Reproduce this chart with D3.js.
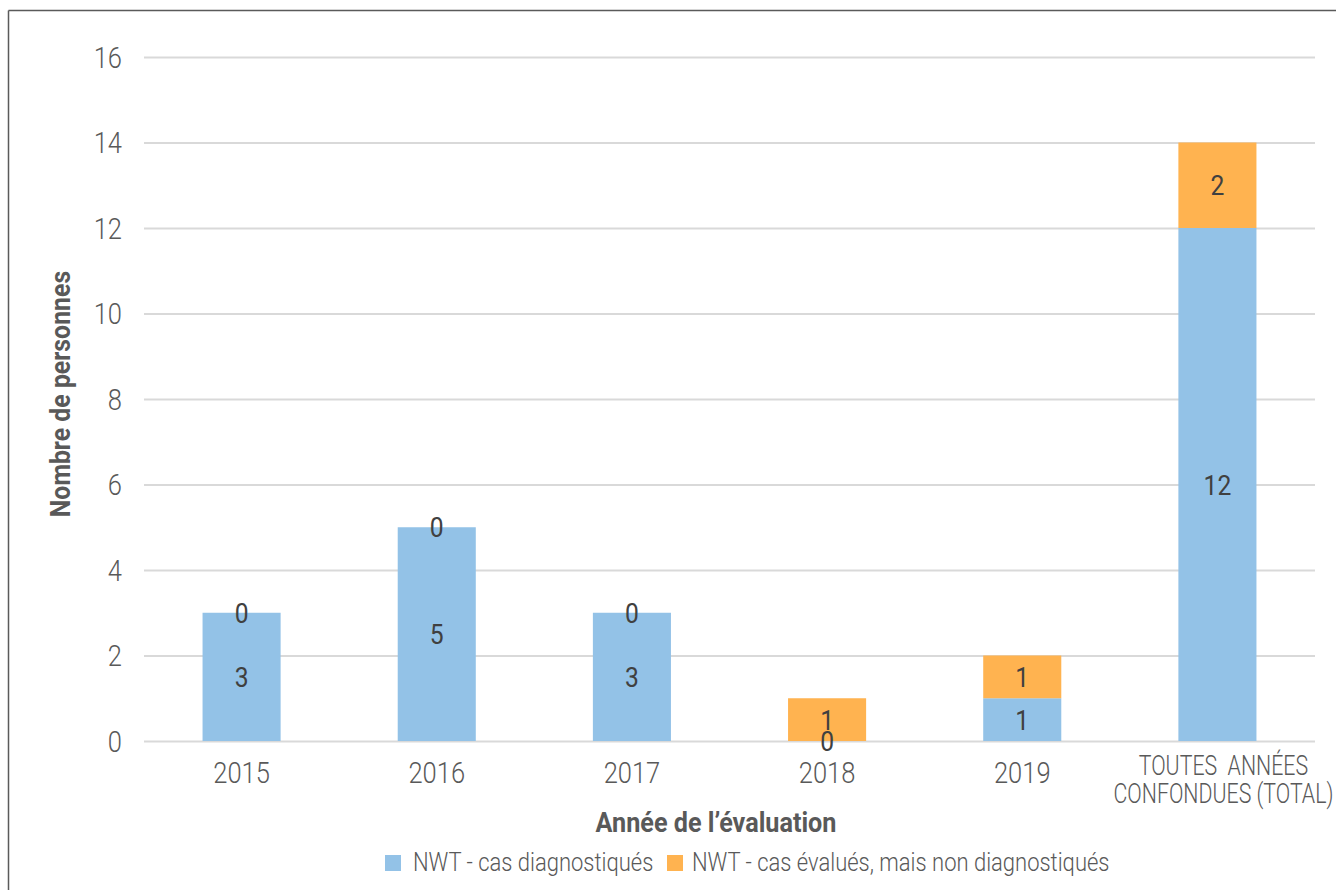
<!DOCTYPE html>
<html>
<head>
<meta charset="utf-8">
<script src="https://cdn.jsdelivr.net/npm/d3@7"></script>
<style>
  html, body { margin: 0; padding: 0; background: #fff; }
  svg { display: block; }
  text { font-family: Roboto, "Liberation Sans", sans-serif; }
</style>
</head>
<body>
<svg id="chart" width="1336" height="890"></svg>
<script>
const categories = ["2015", "2016", "2017", "2018", "2019", "TOUTES  ANNÉES|CONFONDUES (TOTAL)"];
const diagnosed = [3, 5, 3, 0, 1, 12];
const notDiagnosed = [0, 0, 0, 1, 1, 2];
const seriesNames = ["NWT - cas diagnostiqués", "NWT - cas évalués, mais non diagnostiqués"];
const seriesColors = ["#93C2E7", "#FFB350"];
const yTicks = [0, 2, 4, 6, 8, 10, 12, 14, 16];

const svg = d3.select("#chart");
const W = 1336, H = 890;
const plot = { left: 144, right: 1315, top: 57, bottom: 741 };
const C = 0.88; // horizontal condense factor

// condensed text helper: anchored at (x,y)
function ctext(parent, x, y, str, opts) {
  const c = opts.c || C;
  const g = parent.append("g").attr("transform", `translate(${x},${y}) scale(${c},1)`);
  const t = g.append("text")
    .attr("text-anchor", opts.anchor || "start")
    .attr("font-size", opts.size)
    .attr("font-weight", opts.weight || 400)
    .attr("fill", opts.fill || "#595959")
    .text(str);
  if (opts.dy) t.attr("dy", opts.dy);
  return t;
}

// frame
svg.append("line").attr("x1", 8.5).attr("x2", W).attr("y1", 10.5).attr("y2", 10.5)
  .attr("stroke", "#5a5a5a").attr("stroke-width", 1.5);
svg.append("line").attr("x1", 8.5).attr("x2", 8.5).attr("y1", 10.5).attr("y2", H)
  .attr("stroke", "#5a5a5a").attr("stroke-width", 1.5);

const x = d3.scaleBand().domain(categories).range([plot.left, plot.right])
  .paddingInner(0.6).paddingOuter(0.3);
const y = d3.scaleLinear().domain([0, 16]).range([plot.bottom, plot.top]);

// y axis with gridlines
const yAxis = svg.append("g").attr("transform", `translate(${plot.left},0)`)
  .call(d3.axisLeft(y).tickValues(yTicks).tickSize(-(plot.right - plot.left)).tickPadding(22));
yAxis.select(".domain").remove();
yAxis.selectAll(".tick line").attr("stroke", "#d9d9d9").attr("stroke-width", 2);
yAxis.selectAll(".tick text")
  .attr("fill", "#595959").attr("font-size", 29).attr("font-weight", 300)
  .attr("x", -22 / C).attr("dy", "0.35em")
  .attr("transform", `scale(${C},1)`)
  .style("font-family", "Roboto, sans-serif");

// stacked data
const data = categories.map((c, i) => ({ cat: c, d: diagnosed[i], n: notDiagnosed[i] }));
const stack = d3.stack().keys(["d", "n"])(data);

const layers = svg.append("g").selectAll("g").data(stack).join("g")
  .attr("fill", (d, i) => seriesColors[i]);
layers.selectAll("rect").data(d => d).join("rect")
  .attr("x", d => x(d.data.cat))
  .attr("width", x.bandwidth())
  .attr("y", d => y(d[1]))
  .attr("height", d => y(d[0]) - y(d[1]));

// data labels
const labels = svg.append("g");
stack.forEach(layer => {
  layer.forEach(d => {
    ctext(labels, x(d.data.cat) + x.bandwidth() / 2, y((d[0] + d[1]) / 2), d[1] - d[0],
      { anchor: "middle", size: 28, fill: "#404040", dy: "0.36em", weight: 400 });
  });
});

// x axis labels
const xAxis = svg.append("g").attr("transform", `translate(0,${plot.bottom})`)
  .call(d3.axisBottom(x).tickSize(0).tickPadding(0).tickFormat(""));
xAxis.select(".domain").remove();
xAxis.selectAll(".tick").each(function(d) {
  const lines = d.split("|");
  const tick = d3.select(this);
  if (lines.length === 1) {
    ctext(tick, 0, 42, lines[0], { anchor: "middle", size: 29, weight: 300 });
  } else {
    lines.forEach((l, i) => {
      ctext(tick, 6, 34 + i * 28, l, { anchor: "middle", size: 27, weight: 300, c: 0.79 })
        .attr("xml:space", "preserve");
    });
  }
});

// axis titles
ctext(svg, 716, 832, "Année de l’évaluation", { anchor: "middle", size: 28, weight: 700, c: 0.9 });
const yTitle = svg.append("g").attr("transform", "translate(70,394) rotate(-90)");
ctext(yTitle, 0, 0, "Nombre de personnes", { anchor: "middle", size: 27, weight: 700, c: 0.92 });

// legend
const legend = svg.append("g");
const legendItems = [{ x: 385, tx: 413 }, { x: 667, tx: 692 }];
seriesNames.forEach((name, i) => {
  legend.append("rect").attr("x", legendItems[i].x).attr("y", 855).attr("width", 16).attr("height", 16)
    .attr("fill", seriesColors[i]);
  ctext(legend, legendItems[i].tx, 871, name, { size: 25, weight: 300, c: 0.88 });
});
</script>
</body>
</html>
